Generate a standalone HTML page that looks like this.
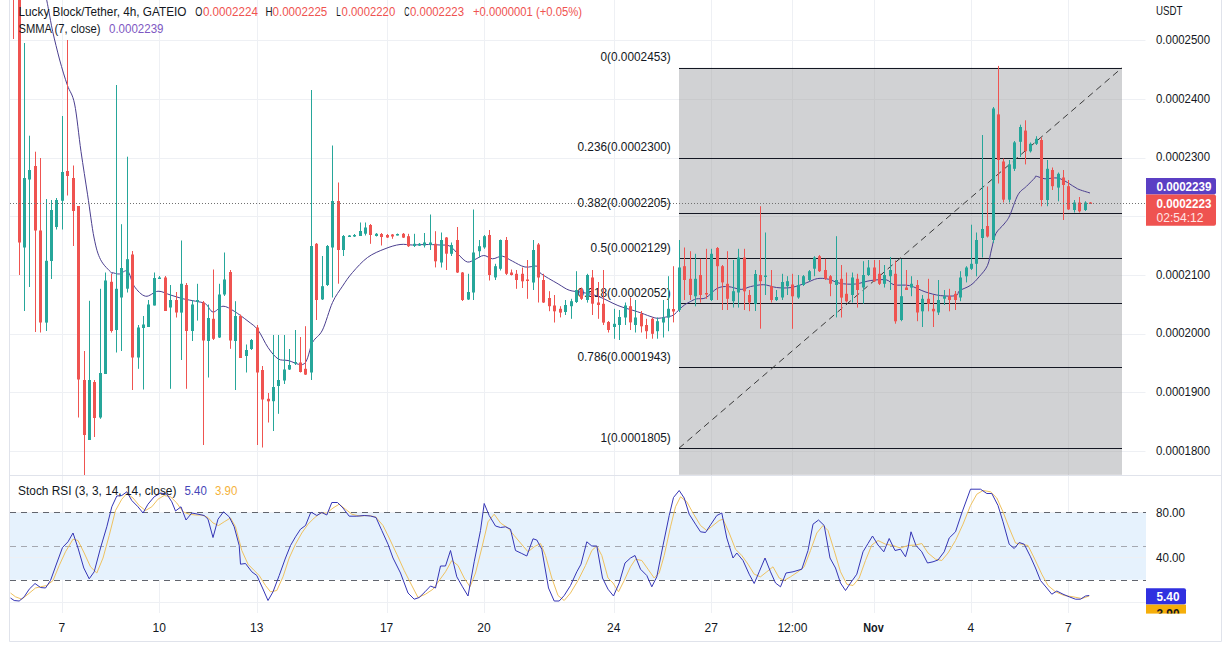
<!DOCTYPE html>
<html><head><meta charset="utf-8"><style>
html,body{margin:0;padding:0;background:#fff;width:1232px;height:647px;overflow:hidden}
svg{display:block;font-family:"Liberation Sans", sans-serif}
</style></head><body>
<svg width="1232" height="647" viewBox="0 0 1232 647">
<rect width="1232" height="647" fill="#fff"/>
<line x1="62.5" y1="0" x2="62.5" y2="613" stroke="#eef0f4" stroke-width="1"/>
<line x1="159.5" y1="0" x2="159.5" y2="613" stroke="#eef0f4" stroke-width="1"/>
<line x1="257.5" y1="0" x2="257.5" y2="613" stroke="#eef0f4" stroke-width="1"/>
<line x1="387.5" y1="0" x2="387.5" y2="613" stroke="#eef0f4" stroke-width="1"/>
<line x1="484.5" y1="0" x2="484.5" y2="613" stroke="#eef0f4" stroke-width="1"/>
<line x1="614.5" y1="0" x2="614.5" y2="613" stroke="#eef0f4" stroke-width="1"/>
<line x1="711.5" y1="0" x2="711.5" y2="613" stroke="#eef0f4" stroke-width="1"/>
<line x1="792.5" y1="0" x2="792.5" y2="613" stroke="#eef0f4" stroke-width="1"/>
<line x1="874.5" y1="0" x2="874.5" y2="613" stroke="#eef0f4" stroke-width="1"/>
<line x1="971.5" y1="0" x2="971.5" y2="613" stroke="#eef0f4" stroke-width="1"/>
<line x1="1068.5" y1="0" x2="1068.5" y2="613" stroke="#eef0f4" stroke-width="1"/>
<line x1="10" y1="40.5" x2="1145.5" y2="40.5" stroke="#eef0f4" stroke-width="1"/>
<line x1="10" y1="99.5" x2="1145.5" y2="99.5" stroke="#eef0f4" stroke-width="1"/>
<line x1="10" y1="158.5" x2="1145.5" y2="158.5" stroke="#eef0f4" stroke-width="1"/>
<line x1="10" y1="216.5" x2="1145.5" y2="216.5" stroke="#eef0f4" stroke-width="1"/>
<line x1="10" y1="275.5" x2="1145.5" y2="275.5" stroke="#eef0f4" stroke-width="1"/>
<line x1="10" y1="334.5" x2="1145.5" y2="334.5" stroke="#eef0f4" stroke-width="1"/>
<line x1="10" y1="392.5" x2="1145.5" y2="392.5" stroke="#eef0f4" stroke-width="1"/>
<line x1="10" y1="451.5" x2="1145.5" y2="451.5" stroke="#eef0f4" stroke-width="1"/>
<rect x="679" y="67.8" width="443" height="407.0" fill="#d1d2d4"/>
<line x1="711.5" y1="67.8" x2="711.5" y2="474.8" stroke="#c9cacc" stroke-width="1"/>
<line x1="792.5" y1="67.8" x2="792.5" y2="474.8" stroke="#c9cacc" stroke-width="1"/>
<line x1="874.5" y1="67.8" x2="874.5" y2="474.8" stroke="#c9cacc" stroke-width="1"/>
<line x1="971.5" y1="67.8" x2="971.5" y2="474.8" stroke="#c9cacc" stroke-width="1"/>
<line x1="1068.5" y1="67.8" x2="1068.5" y2="474.8" stroke="#c9cacc" stroke-width="1"/>
<line x1="679" y1="99.5" x2="1122" y2="99.5" stroke="#c9cacc" stroke-width="1"/>
<line x1="679" y1="158.5" x2="1122" y2="158.5" stroke="#c9cacc" stroke-width="1"/>
<line x1="679" y1="216.5" x2="1122" y2="216.5" stroke="#c9cacc" stroke-width="1"/>
<line x1="679" y1="275.5" x2="1122" y2="275.5" stroke="#c9cacc" stroke-width="1"/>
<line x1="679" y1="334.5" x2="1122" y2="334.5" stroke="#c9cacc" stroke-width="1"/>
<line x1="679" y1="392.5" x2="1122" y2="392.5" stroke="#c9cacc" stroke-width="1"/>
<line x1="679" y1="451.5" x2="1122" y2="451.5" stroke="#c9cacc" stroke-width="1"/>
<line x1="679" y1="68.5" x2="1122" y2="68.5" stroke="#131722" stroke-width="1.1"/>
<line x1="679" y1="158.5" x2="1122" y2="158.5" stroke="#131722" stroke-width="1.1"/>
<line x1="679" y1="213.5" x2="1122" y2="213.5" stroke="#131722" stroke-width="1.1"/>
<line x1="679" y1="258.5" x2="1122" y2="258.5" stroke="#131722" stroke-width="1.1"/>
<line x1="679" y1="303.5" x2="1122" y2="303.5" stroke="#131722" stroke-width="1.1"/>
<line x1="679" y1="367.5" x2="1122" y2="367.5" stroke="#131722" stroke-width="1.1"/>
<line x1="679" y1="448.5" x2="1122" y2="448.5" stroke="#131722" stroke-width="1.1"/>
<line x1="679" y1="448.2" x2="1122" y2="67.8" stroke="#3a3a3a" stroke-width="1" stroke-dasharray="6.5,4.5"/>
<text x="670.8" y="61.3" font-size="12" fill="#131722" text-anchor="end" font-weight="normal" textLength="70.3" lengthAdjust="spacingAndGlyphs">0(0.0002453)</text>
<text x="670.8" y="151.1" font-size="12" fill="#131722" text-anchor="end" font-weight="normal" textLength="93.3" lengthAdjust="spacingAndGlyphs">0.236(0.0002300)</text>
<text x="670.8" y="206.9" font-size="12" fill="#131722" text-anchor="end" font-weight="normal" textLength="93.3" lengthAdjust="spacingAndGlyphs">0.382(0.0002205)</text>
<text x="670.8" y="251.5" font-size="12" fill="#131722" text-anchor="end" font-weight="normal" textLength="80.2" lengthAdjust="spacingAndGlyphs">0.5(0.0002129)</text>
<text x="670.8" y="296.7" font-size="12" fill="#131722" text-anchor="end" font-weight="normal" textLength="93.3" lengthAdjust="spacingAndGlyphs">0.618(0.0002052)</text>
<text x="670.8" y="360.7" font-size="12" fill="#131722" text-anchor="end" font-weight="normal" textLength="93.3" lengthAdjust="spacingAndGlyphs">0.786(0.0001943)</text>
<text x="670.8" y="441.7" font-size="12" fill="#131722" text-anchor="end" font-weight="normal" textLength="70.3" lengthAdjust="spacingAndGlyphs">1(0.0001805)</text>
<path d="M46.7,0.0 C47.1,2.0 48.0,6.8 49.0,12.0 C50.0,17.2 50.9,23.5 52.7,31.5 C54.5,39.5 57.3,51.1 59.7,60.0 C62.1,68.9 64.8,77.7 67.3,85.0 C69.8,92.3 72.3,92.9 74.6,104.0 C76.9,115.1 78.8,136.4 81.0,151.5 C83.2,166.6 85.4,180.4 87.6,194.8 C89.8,209.2 91.9,227.2 94.1,238.0 C96.3,248.8 97.7,253.9 100.6,259.7 C103.5,265.5 109.4,270.5 111.4,272.7 C113.4,274.9 111.1,272.4 112.4,272.6 C113.7,272.8 116.8,274.2 119.3,274.0 C121.8,273.8 125.2,269.2 127.7,271.2 C130.2,273.2 131.3,282.1 134.2,286.2 C137.2,290.4 141.5,295.4 145.5,296.2 C149.5,297.1 153.8,291.5 158.0,291.2 C162.2,291.0 166.3,293.8 170.5,295.0 C174.7,296.2 178.8,297.7 183.0,298.8 C187.2,299.8 191.8,300.4 195.5,301.2 C199.2,302.1 202.6,302.0 205.5,303.8 C208.4,305.5 210.1,311.6 213.0,312.0 C215.9,312.4 219.5,306.4 223.0,306.2 C226.5,306.1 230.1,308.8 234.2,311.2 C238.4,313.8 244.0,318.1 248.0,321.2 C252.0,324.4 254.7,325.6 258.0,330.0 C261.3,334.4 264.7,342.7 268.0,347.5 C271.3,352.3 274.7,356.6 278.0,358.8 C281.3,360.9 283.6,359.7 288.0,360.5 C292.4,361.3 300.2,366.8 304.2,363.8 C308.3,360.8 309.5,348.1 312.5,342.5 C315.5,336.9 319.2,336.7 322.5,330.0 C325.8,323.3 329.2,309.8 332.5,302.5 C335.8,295.2 339.2,291.2 342.5,286.2 C345.8,281.2 348.3,277.3 352.5,272.5 C356.7,267.7 362.1,261.5 367.5,257.5 C372.9,253.5 379.6,250.9 385.0,248.8 C390.4,246.6 395.4,245.1 400.0,244.5 C404.6,243.9 408.3,245.0 412.5,245.0 C416.7,245.0 420.4,244.5 425.0,244.5 C429.6,244.5 435.8,244.7 440.0,245.0 C444.2,245.3 446.7,244.4 450.0,246.2 C453.3,248.1 457.1,253.6 460.0,256.2 C462.9,258.9 465.0,261.5 467.5,262.0 C470.0,262.5 472.3,260.6 475.0,259.5 C477.7,258.4 480.8,255.6 483.8,255.5 C486.7,255.4 489.4,258.6 492.5,258.8 C495.6,258.9 499.2,255.8 502.5,256.2 C505.8,256.7 508.8,259.5 512.5,261.2 C516.2,263.0 520.8,266.2 525.0,267.0 C529.2,267.8 535.0,265.3 537.5,266.2 C540.0,267.2 536.6,269.9 540.0,272.8 C543.4,275.7 553.2,281.0 558.1,283.9 C563.0,286.8 565.3,288.8 569.2,290.2 C573.1,291.6 576.8,291.3 581.7,292.3 C586.6,293.3 592.4,294.2 598.4,296.4 C604.4,298.6 611.4,302.9 617.9,305.5 C624.4,308.1 632.0,309.9 637.4,311.7 C642.8,313.5 646.6,315.2 650.0,316.3 C653.4,317.4 655.1,318.2 657.7,318.3 C660.3,318.4 662.9,317.6 665.5,317.1 C668.1,316.6 670.9,316.5 673.2,315.2 C675.5,313.9 677.5,311.1 679.4,309.4 C681.3,307.6 683.0,306.0 684.8,304.7 C686.6,303.4 688.3,302.7 690.2,301.7 C692.1,300.7 693.8,299.5 696.4,298.9 C699.0,298.2 702.2,299.6 705.7,297.8 C709.2,296.1 713.4,290.3 717.1,288.4 C720.9,286.5 724.2,286.4 728.2,286.6 C732.2,286.8 737.5,289.4 741.2,289.4 C744.9,289.4 746.8,287.4 750.5,286.6 C754.2,285.8 759.2,284.6 763.5,284.7 C767.8,284.8 771.9,287.0 776.5,287.5 C781.1,288.0 786.3,288.3 791.3,287.5 C796.2,286.7 801.9,284.4 806.2,282.9 C810.5,281.4 813.6,279.2 817.3,278.6 C821.0,278.0 824.6,278.4 828.4,279.2 C832.2,280.0 835.5,282.5 840.0,283.3 C844.5,284.1 850.4,284.5 855.5,284.0 C860.6,283.5 865.8,281.2 870.9,280.5 C876.0,279.8 882.5,279.2 886.4,279.9 C890.3,280.6 890.2,283.9 894.1,284.8 C898.0,285.8 904.5,284.4 909.6,285.6 C914.8,286.8 919.9,290.1 925.0,291.8 C930.1,293.5 935.4,295.0 940.5,295.6 C945.6,296.2 952.7,296.4 955.9,295.6 C959.1,294.8 957.1,292.4 959.6,290.7 C962.1,289.0 967.5,287.5 970.7,285.2 C974.0,282.9 976.3,280.1 979.1,276.8 C981.9,273.6 985.3,270.3 987.4,265.7 C989.5,261.1 990.2,254.3 991.6,249.0 C993.0,243.7 993.7,237.9 995.8,233.7 C997.9,229.5 1001.8,227.0 1004.1,224.0 C1006.4,221.0 1007.4,220.5 1009.7,215.6 C1012.0,210.7 1015.2,199.7 1018.0,194.8 C1020.8,189.9 1023.6,189.2 1026.4,186.4 C1029.2,183.6 1033.1,179.7 1034.7,178.0 C1036.3,176.3 1034.5,176.1 1036.2,176.2 C1038.0,176.4 1041.5,178.5 1045.0,178.8 C1048.5,179.0 1053.8,177.4 1057.5,178.0 C1061.2,178.6 1064.2,180.7 1067.5,182.5 C1070.8,184.3 1073.8,187.0 1077.5,188.8 C1081.2,190.5 1087.9,192.3 1090.0,193.0" fill="none" stroke="#4b3f8f" stroke-width="1"/>
<rect x="13" y="-70.0" width="1" height="109.0" fill="#ef5350"/>
<rect x="12" y="-60.0" width="3" height="55.0" fill="#ef5350"/>
<rect x="19" y="-20.0" width="1" height="295.0" fill="#ef5350"/>
<rect x="18" y="-10.0" width="3" height="252.5" fill="#ef5350"/>
<rect x="24" y="43.0" width="1" height="268.0" fill="#26a69a"/>
<rect x="23" y="178.0" width="3" height="69.5" fill="#26a69a"/>
<rect x="29" y="135.7" width="1" height="151.3" fill="#26a69a"/>
<rect x="28" y="170.0" width="3" height="9.5" fill="#26a69a"/>
<rect x="35" y="151.7" width="1" height="180.3" fill="#ef5350"/>
<rect x="34" y="166.0" width="3" height="64.5" fill="#ef5350"/>
<rect x="40" y="158.0" width="1" height="174.5" fill="#ef5350"/>
<rect x="39" y="230.5" width="3" height="92.0" fill="#ef5350"/>
<rect x="46" y="199.0" width="1" height="132.0" fill="#26a69a"/>
<rect x="45" y="260.8" width="3" height="61.8" fill="#26a69a"/>
<rect x="51" y="200.0" width="1" height="79.0" fill="#26a69a"/>
<rect x="50" y="210.0" width="3" height="51.0" fill="#26a69a"/>
<rect x="56" y="198.0" width="1" height="31.5" fill="#26a69a"/>
<rect x="55" y="200.0" width="3" height="27.0" fill="#26a69a"/>
<rect x="62" y="116.0" width="1" height="113.5" fill="#26a69a"/>
<rect x="61" y="172.0" width="3" height="28.8" fill="#26a69a"/>
<rect x="67" y="40.0" width="1" height="155.5" fill="#ef5350"/>
<rect x="66" y="171.0" width="3" height="5.0" fill="#ef5350"/>
<rect x="73" y="165.5" width="1" height="80.5" fill="#ef5350"/>
<rect x="72" y="178.0" width="3" height="33.0" fill="#ef5350"/>
<rect x="78" y="206.0" width="1" height="211.5" fill="#ef5350"/>
<rect x="77" y="206.0" width="3" height="173.5" fill="#ef5350"/>
<rect x="84" y="351.0" width="1" height="124.0" fill="#ef5350"/>
<rect x="83" y="380.0" width="3" height="55.0" fill="#ef5350"/>
<rect x="89" y="300.8" width="1" height="139.2" fill="#26a69a"/>
<rect x="88" y="380.0" width="3" height="60.0" fill="#26a69a"/>
<rect x="94" y="380.0" width="1" height="57.0" fill="#ef5350"/>
<rect x="93" y="382.0" width="3" height="36.0" fill="#ef5350"/>
<rect x="100" y="288.8" width="1" height="130.0" fill="#26a69a"/>
<rect x="99" y="373.0" width="3" height="44.5" fill="#26a69a"/>
<rect x="105" y="272.5" width="1" height="101.5" fill="#26a69a"/>
<rect x="104" y="280.5" width="3" height="93.5" fill="#26a69a"/>
<rect x="111" y="273.8" width="1" height="58.8" fill="#ef5350"/>
<rect x="110" y="281.8" width="3" height="49.2" fill="#ef5350"/>
<rect x="116" y="85.0" width="1" height="267.5" fill="#26a69a"/>
<rect x="115" y="288.8" width="3" height="41.2" fill="#26a69a"/>
<rect x="121" y="224.2" width="1" height="126.8" fill="#26a69a"/>
<rect x="120" y="268.0" width="3" height="29.5" fill="#26a69a"/>
<rect x="127" y="156.7" width="1" height="135.8" fill="#26a69a"/>
<rect x="126" y="259.2" width="3" height="29.5" fill="#26a69a"/>
<rect x="132" y="251.0" width="1" height="139.0" fill="#ef5350"/>
<rect x="131" y="254.5" width="3" height="103.0" fill="#ef5350"/>
<rect x="138" y="325.0" width="1" height="43.8" fill="#26a69a"/>
<rect x="137" y="327.5" width="3" height="30.0" fill="#26a69a"/>
<rect x="143" y="316.0" width="1" height="73.5" fill="#26a69a"/>
<rect x="142" y="324.5" width="3" height="3.5" fill="#26a69a"/>
<rect x="148" y="300.0" width="1" height="27.0" fill="#26a69a"/>
<rect x="147" y="304.5" width="3" height="22.5" fill="#26a69a"/>
<rect x="154" y="272.5" width="1" height="33.0" fill="#26a69a"/>
<rect x="153" y="278.0" width="3" height="27.5" fill="#26a69a"/>
<rect x="159" y="276.0" width="1" height="3.0" fill="#26a69a"/>
<rect x="158" y="277.5" width="3" height="1.5" fill="#26a69a"/>
<rect x="165" y="276.0" width="1" height="35.0" fill="#ef5350"/>
<rect x="164" y="277.5" width="3" height="33.5" fill="#ef5350"/>
<rect x="170" y="285.0" width="1" height="103.8" fill="#26a69a"/>
<rect x="169" y="300.0" width="3" height="7.5" fill="#26a69a"/>
<rect x="176" y="292.0" width="1" height="25.5" fill="#ef5350"/>
<rect x="175" y="300.0" width="3" height="12.5" fill="#ef5350"/>
<rect x="181" y="240.5" width="1" height="119.5" fill="#26a69a"/>
<rect x="180" y="283.8" width="3" height="28.8" fill="#26a69a"/>
<rect x="186" y="283.0" width="1" height="105.8" fill="#ef5350"/>
<rect x="185" y="285.0" width="3" height="46.0" fill="#ef5350"/>
<rect x="192" y="300.0" width="1" height="41.0" fill="#26a69a"/>
<rect x="191" y="304.5" width="3" height="26.5" fill="#26a69a"/>
<rect x="197" y="283.8" width="1" height="36.8" fill="#26a69a"/>
<rect x="196" y="300.0" width="3" height="2.0" fill="#26a69a"/>
<rect x="203" y="301.0" width="1" height="144.0" fill="#ef5350"/>
<rect x="202" y="302.5" width="3" height="38.0" fill="#ef5350"/>
<rect x="208" y="304.5" width="1" height="73.0" fill="#26a69a"/>
<rect x="207" y="318.0" width="3" height="23.0" fill="#26a69a"/>
<rect x="213" y="269.5" width="1" height="70.5" fill="#ef5350"/>
<rect x="212" y="318.8" width="3" height="20.0" fill="#ef5350"/>
<rect x="219" y="283.8" width="1" height="54.2" fill="#26a69a"/>
<rect x="218" y="294.5" width="3" height="43.0" fill="#26a69a"/>
<rect x="224" y="252.5" width="1" height="43.5" fill="#26a69a"/>
<rect x="223" y="279.5" width="3" height="15.0" fill="#26a69a"/>
<rect x="230" y="270.0" width="1" height="78.8" fill="#ef5350"/>
<rect x="229" y="272.0" width="3" height="68.5" fill="#ef5350"/>
<rect x="235" y="301.2" width="1" height="88.8" fill="#26a69a"/>
<rect x="234" y="316.0" width="3" height="25.0" fill="#26a69a"/>
<rect x="240" y="314.5" width="1" height="43.5" fill="#ef5350"/>
<rect x="239" y="316.0" width="3" height="42.0" fill="#ef5350"/>
<rect x="246" y="344.5" width="1" height="28.0" fill="#26a69a"/>
<rect x="245" y="350.0" width="3" height="6.0" fill="#26a69a"/>
<rect x="251" y="339.0" width="1" height="11.0" fill="#26a69a"/>
<rect x="250" y="340.0" width="3" height="9.0" fill="#26a69a"/>
<rect x="257" y="325.0" width="1" height="120.0" fill="#ef5350"/>
<rect x="256" y="327.5" width="3" height="45.0" fill="#ef5350"/>
<rect x="262" y="366.0" width="1" height="81.5" fill="#ef5350"/>
<rect x="261" y="370.0" width="3" height="29.5" fill="#ef5350"/>
<rect x="268" y="393.0" width="1" height="29.5" fill="#ef5350"/>
<rect x="267" y="398.8" width="3" height="2.5" fill="#ef5350"/>
<rect x="273" y="335.0" width="1" height="96.0" fill="#26a69a"/>
<rect x="272" y="387.0" width="3" height="14.2" fill="#26a69a"/>
<rect x="278" y="335.0" width="1" height="78.8" fill="#26a69a"/>
<rect x="277" y="380.0" width="3" height="6.0" fill="#26a69a"/>
<rect x="284" y="335.0" width="1" height="49.0" fill="#26a69a"/>
<rect x="283" y="369.5" width="3" height="11.0" fill="#26a69a"/>
<rect x="289" y="349.0" width="1" height="21.0" fill="#26a69a"/>
<rect x="288" y="365.0" width="3" height="4.5" fill="#26a69a"/>
<rect x="295" y="330.0" width="1" height="35.0" fill="#26a69a"/>
<rect x="294" y="362.0" width="3" height="1.5" fill="#26a69a"/>
<rect x="300" y="337.0" width="1" height="35.5" fill="#ef5350"/>
<rect x="299" y="362.5" width="3" height="9.5" fill="#ef5350"/>
<rect x="305" y="326.2" width="1" height="48.8" fill="#ef5350"/>
<rect x="304" y="368.8" width="3" height="5.8" fill="#ef5350"/>
<rect x="311" y="90.0" width="1" height="290.0" fill="#26a69a"/>
<rect x="310" y="246.0" width="3" height="126.5" fill="#26a69a"/>
<rect x="316" y="243.0" width="1" height="77.0" fill="#ef5350"/>
<rect x="315" y="243.8" width="3" height="56.2" fill="#ef5350"/>
<rect x="322" y="256.0" width="1" height="44.0" fill="#26a69a"/>
<rect x="321" y="286.2" width="3" height="13.2" fill="#26a69a"/>
<rect x="327" y="245.0" width="1" height="41.0" fill="#26a69a"/>
<rect x="326" y="246.0" width="3" height="39.0" fill="#26a69a"/>
<rect x="332" y="145.5" width="1" height="152.0" fill="#26a69a"/>
<rect x="331" y="201.0" width="3" height="46.5" fill="#26a69a"/>
<rect x="338" y="182.5" width="1" height="101.2" fill="#ef5350"/>
<rect x="337" y="201.0" width="3" height="49.0" fill="#ef5350"/>
<rect x="343" y="235.0" width="1" height="21.0" fill="#26a69a"/>
<rect x="342" y="236.0" width="3" height="14.0" fill="#26a69a"/>
<rect x="349" y="235.0" width="1" height="2.0" fill="#26a69a"/>
<rect x="348" y="235.5" width="3" height="1.5" fill="#26a69a"/>
<rect x="354" y="234.0" width="1" height="3.0" fill="#26a69a"/>
<rect x="353" y="235.0" width="3" height="1.5" fill="#26a69a"/>
<rect x="360" y="222.5" width="1" height="13.5" fill="#26a69a"/>
<rect x="359" y="231.0" width="3" height="5.0" fill="#26a69a"/>
<rect x="365" y="222.5" width="1" height="13.0" fill="#26a69a"/>
<rect x="364" y="227.5" width="3" height="6.2" fill="#26a69a"/>
<rect x="370" y="224.0" width="1" height="19.8" fill="#ef5350"/>
<rect x="369" y="225.0" width="3" height="10.0" fill="#ef5350"/>
<rect x="376" y="233.0" width="1" height="3.5" fill="#26a69a"/>
<rect x="375" y="233.8" width="3" height="2.2" fill="#26a69a"/>
<rect x="381" y="233.0" width="1" height="12.5" fill="#ef5350"/>
<rect x="380" y="234.0" width="3" height="3.0" fill="#ef5350"/>
<rect x="387" y="234.0" width="1" height="4.0" fill="#ef5350"/>
<rect x="386" y="235.0" width="3" height="2.5" fill="#ef5350"/>
<rect x="392" y="234.0" width="1" height="4.8" fill="#ef5350"/>
<rect x="391" y="234.5" width="3" height="2.0" fill="#ef5350"/>
<rect x="397" y="233.5" width="1" height="2.0" fill="#26a69a"/>
<rect x="396" y="234.0" width="3" height="1.5" fill="#26a69a"/>
<rect x="403" y="233.0" width="1" height="5.0" fill="#ef5350"/>
<rect x="402" y="233.8" width="3" height="3.8" fill="#ef5350"/>
<rect x="408" y="233.8" width="1" height="13.2" fill="#ef5350"/>
<rect x="407" y="236.2" width="3" height="10.0" fill="#ef5350"/>
<rect x="414" y="233.8" width="1" height="13.2" fill="#26a69a"/>
<rect x="413" y="243.8" width="3" height="2.2" fill="#26a69a"/>
<rect x="419" y="243.0" width="1" height="3.0" fill="#26a69a"/>
<rect x="418" y="243.8" width="3" height="1.8" fill="#26a69a"/>
<rect x="424" y="233.0" width="1" height="14.5" fill="#26a69a"/>
<rect x="423" y="242.5" width="3" height="3.0" fill="#26a69a"/>
<rect x="430" y="214.5" width="1" height="35.5" fill="#26a69a"/>
<rect x="429" y="242.5" width="3" height="2.5" fill="#26a69a"/>
<rect x="435" y="231.2" width="1" height="36.2" fill="#ef5350"/>
<rect x="434" y="243.8" width="3" height="17.5" fill="#ef5350"/>
<rect x="441" y="232.5" width="1" height="35.0" fill="#26a69a"/>
<rect x="440" y="240.0" width="3" height="22.5" fill="#26a69a"/>
<rect x="446" y="237.0" width="1" height="33.0" fill="#ef5350"/>
<rect x="445" y="237.5" width="3" height="16.2" fill="#ef5350"/>
<rect x="451" y="242.5" width="1" height="13.5" fill="#26a69a"/>
<rect x="450" y="245.0" width="3" height="8.8" fill="#26a69a"/>
<rect x="457" y="227.0" width="1" height="46.0" fill="#ef5350"/>
<rect x="456" y="240.0" width="3" height="32.5" fill="#ef5350"/>
<rect x="462" y="272.0" width="1" height="29.0" fill="#ef5350"/>
<rect x="461" y="272.5" width="3" height="27.5" fill="#ef5350"/>
<rect x="468" y="273.8" width="1" height="26.2" fill="#26a69a"/>
<rect x="467" y="292.0" width="3" height="7.5" fill="#26a69a"/>
<rect x="473" y="209.5" width="1" height="90.5" fill="#26a69a"/>
<rect x="472" y="252.5" width="3" height="40.0" fill="#26a69a"/>
<rect x="479" y="240.0" width="1" height="17.5" fill="#26a69a"/>
<rect x="478" y="246.2" width="3" height="5.0" fill="#26a69a"/>
<rect x="484" y="235.0" width="1" height="13.8" fill="#26a69a"/>
<rect x="483" y="236.2" width="3" height="11.2" fill="#26a69a"/>
<rect x="489" y="230.0" width="1" height="50.5" fill="#ef5350"/>
<rect x="488" y="235.0" width="3" height="40.0" fill="#ef5350"/>
<rect x="495" y="263.8" width="1" height="16.2" fill="#26a69a"/>
<rect x="494" y="266.2" width="3" height="11.2" fill="#26a69a"/>
<rect x="500" y="239.5" width="1" height="31.0" fill="#26a69a"/>
<rect x="499" y="240.0" width="3" height="28.8" fill="#26a69a"/>
<rect x="506" y="237.0" width="1" height="38.0" fill="#ef5350"/>
<rect x="505" y="240.0" width="3" height="33.8" fill="#ef5350"/>
<rect x="511" y="269.5" width="1" height="6.0" fill="#ef5350"/>
<rect x="510" y="272.5" width="3" height="2.5" fill="#ef5350"/>
<rect x="516" y="270.0" width="1" height="18.8" fill="#ef5350"/>
<rect x="515" y="273.8" width="3" height="6.2" fill="#ef5350"/>
<rect x="522" y="267.5" width="1" height="20.5" fill="#ef5350"/>
<rect x="521" y="273.8" width="3" height="7.5" fill="#ef5350"/>
<rect x="527" y="260.0" width="1" height="38.8" fill="#ef5350"/>
<rect x="526" y="279.5" width="3" height="1.5" fill="#ef5350"/>
<rect x="533" y="240.0" width="1" height="50.0" fill="#26a69a"/>
<rect x="532" y="250.0" width="3" height="32.5" fill="#26a69a"/>
<rect x="538" y="243.0" width="1" height="59.5" fill="#ef5350"/>
<rect x="537" y="244.5" width="3" height="33.0" fill="#ef5350"/>
<rect x="543" y="273.8" width="1" height="29.2" fill="#ef5350"/>
<rect x="542" y="280.0" width="3" height="22.5" fill="#ef5350"/>
<rect x="549" y="291.2" width="1" height="20.0" fill="#ef5350"/>
<rect x="548" y="298.0" width="3" height="8.2" fill="#ef5350"/>
<rect x="554" y="295.0" width="1" height="27.5" fill="#ef5350"/>
<rect x="553" y="305.5" width="3" height="5.8" fill="#ef5350"/>
<rect x="560" y="306.2" width="1" height="11.2" fill="#ef5350"/>
<rect x="559" y="308.8" width="3" height="3.8" fill="#ef5350"/>
<rect x="565" y="300.0" width="1" height="15.0" fill="#26a69a"/>
<rect x="564" y="305.0" width="3" height="7.0" fill="#26a69a"/>
<rect x="571" y="298.8" width="1" height="20.0" fill="#26a69a"/>
<rect x="570" y="301.2" width="3" height="5.0" fill="#26a69a"/>
<rect x="576" y="271.2" width="1" height="31.8" fill="#26a69a"/>
<rect x="575" y="290.0" width="3" height="12.0" fill="#26a69a"/>
<rect x="581" y="287.5" width="1" height="12.5" fill="#ef5350"/>
<rect x="580" y="288.8" width="3" height="10.0" fill="#ef5350"/>
<rect x="587" y="273.8" width="1" height="28.8" fill="#26a69a"/>
<rect x="586" y="275.0" width="3" height="25.0" fill="#26a69a"/>
<rect x="592" y="270.0" width="1" height="45.0" fill="#ef5350"/>
<rect x="591" y="277.5" width="3" height="26.2" fill="#ef5350"/>
<rect x="598" y="282.0" width="1" height="36.8" fill="#ef5350"/>
<rect x="597" y="302.5" width="3" height="2.5" fill="#ef5350"/>
<rect x="603" y="270.0" width="1" height="55.0" fill="#ef5350"/>
<rect x="602" y="303.8" width="3" height="18.8" fill="#ef5350"/>
<rect x="608" y="321.0" width="1" height="11.5" fill="#ef5350"/>
<rect x="607" y="322.0" width="3" height="8.0" fill="#ef5350"/>
<rect x="614" y="308.8" width="1" height="30.0" fill="#26a69a"/>
<rect x="613" y="323.8" width="3" height="3.2" fill="#26a69a"/>
<rect x="619" y="310.0" width="1" height="30.0" fill="#26a69a"/>
<rect x="618" y="317.0" width="3" height="8.0" fill="#26a69a"/>
<rect x="625" y="302.5" width="1" height="22.5" fill="#26a69a"/>
<rect x="624" y="305.5" width="3" height="12.0" fill="#26a69a"/>
<rect x="630" y="297.5" width="1" height="32.5" fill="#ef5350"/>
<rect x="629" y="306.2" width="3" height="16.2" fill="#ef5350"/>
<rect x="635" y="300.0" width="1" height="32.5" fill="#26a69a"/>
<rect x="634" y="317.5" width="3" height="7.5" fill="#26a69a"/>
<rect x="641" y="311.0" width="1" height="21.5" fill="#ef5350"/>
<rect x="640" y="313.8" width="3" height="12.5" fill="#ef5350"/>
<rect x="646" y="318.8" width="1" height="20.0" fill="#ef5350"/>
<rect x="645" y="325.0" width="3" height="6.2" fill="#ef5350"/>
<rect x="652" y="317.5" width="1" height="21.2" fill="#ef5350"/>
<rect x="651" y="318.8" width="3" height="15.0" fill="#ef5350"/>
<rect x="657" y="317.5" width="1" height="21.2" fill="#26a69a"/>
<rect x="656" y="321.2" width="3" height="10.0" fill="#26a69a"/>
<rect x="663" y="300.0" width="1" height="37.5" fill="#26a69a"/>
<rect x="662" y="317.5" width="3" height="5.0" fill="#26a69a"/>
<rect x="668" y="276.2" width="1" height="55.0" fill="#26a69a"/>
<rect x="667" y="308.8" width="3" height="8.8" fill="#26a69a"/>
<rect x="673" y="266.2" width="1" height="56.2" fill="#ef5350"/>
<rect x="672" y="309.0" width="3" height="2.5" fill="#ef5350"/>
<rect x="679" y="240.0" width="1" height="72.0" fill="#26a69a"/>
<rect x="678" y="267.5" width="3" height="42.5" fill="#26a69a"/>
<rect x="684" y="247.5" width="1" height="52.5" fill="#ef5350"/>
<rect x="683" y="266.2" width="3" height="13.8" fill="#ef5350"/>
<rect x="690" y="251.2" width="1" height="48.8" fill="#ef5350"/>
<rect x="689" y="278.8" width="3" height="16.2" fill="#ef5350"/>
<rect x="695" y="253.8" width="1" height="52.5" fill="#26a69a"/>
<rect x="694" y="278.8" width="3" height="17.5" fill="#26a69a"/>
<rect x="700" y="258.8" width="1" height="43.8" fill="#ef5350"/>
<rect x="699" y="275.0" width="3" height="20.0" fill="#ef5350"/>
<rect x="706" y="248.8" width="1" height="50.0" fill="#ef5350"/>
<rect x="705" y="293.0" width="3" height="1.5" fill="#ef5350"/>
<rect x="711" y="248.8" width="1" height="52.2" fill="#26a69a"/>
<rect x="710" y="253.8" width="3" height="46.2" fill="#26a69a"/>
<rect x="717" y="247.0" width="1" height="53.0" fill="#ef5350"/>
<rect x="716" y="248.0" width="3" height="18.2" fill="#ef5350"/>
<rect x="722" y="265.0" width="1" height="45.0" fill="#ef5350"/>
<rect x="721" y="266.2" width="3" height="16.2" fill="#ef5350"/>
<rect x="727" y="251.2" width="1" height="58.8" fill="#ef5350"/>
<rect x="726" y="283.8" width="3" height="15.0" fill="#ef5350"/>
<rect x="733" y="260.0" width="1" height="47.5" fill="#26a69a"/>
<rect x="732" y="291.2" width="3" height="10.0" fill="#26a69a"/>
<rect x="738" y="248.8" width="1" height="58.8" fill="#26a69a"/>
<rect x="737" y="257.5" width="3" height="35.0" fill="#26a69a"/>
<rect x="744" y="248.8" width="1" height="61.2" fill="#ef5350"/>
<rect x="743" y="257.5" width="3" height="33.8" fill="#ef5350"/>
<rect x="749" y="290.0" width="1" height="21.2" fill="#ef5350"/>
<rect x="748" y="295.0" width="3" height="7.5" fill="#ef5350"/>
<rect x="755" y="270.0" width="1" height="41.0" fill="#26a69a"/>
<rect x="754" y="274.0" width="3" height="30.0" fill="#26a69a"/>
<rect x="760" y="206.2" width="1" height="122.5" fill="#ef5350"/>
<rect x="759" y="275.0" width="3" height="6.2" fill="#ef5350"/>
<rect x="765" y="232.5" width="1" height="62.5" fill="#26a69a"/>
<rect x="764" y="275.5" width="3" height="1.5" fill="#26a69a"/>
<rect x="771" y="270.0" width="1" height="32.5" fill="#ef5350"/>
<rect x="770" y="286.2" width="3" height="13.8" fill="#ef5350"/>
<rect x="776" y="290.0" width="1" height="11.0" fill="#26a69a"/>
<rect x="775" y="297.0" width="3" height="3.0" fill="#26a69a"/>
<rect x="782" y="273.8" width="1" height="26.2" fill="#26a69a"/>
<rect x="781" y="282.0" width="3" height="15.5" fill="#26a69a"/>
<rect x="787" y="276.2" width="1" height="18.8" fill="#26a69a"/>
<rect x="786" y="281.2" width="3" height="5.0" fill="#26a69a"/>
<rect x="792" y="273.8" width="1" height="55.0" fill="#ef5350"/>
<rect x="791" y="284.5" width="3" height="11.8" fill="#ef5350"/>
<rect x="798" y="275.0" width="1" height="23.8" fill="#26a69a"/>
<rect x="797" y="285.0" width="3" height="12.5" fill="#26a69a"/>
<rect x="803" y="275.0" width="1" height="11.0" fill="#26a69a"/>
<rect x="802" y="276.2" width="3" height="8.8" fill="#26a69a"/>
<rect x="809" y="270.0" width="1" height="11.0" fill="#26a69a"/>
<rect x="808" y="271.2" width="3" height="8.8" fill="#26a69a"/>
<rect x="814" y="256.2" width="1" height="20.0" fill="#26a69a"/>
<rect x="813" y="257.5" width="3" height="11.2" fill="#26a69a"/>
<rect x="819" y="255.0" width="1" height="17.0" fill="#ef5350"/>
<rect x="818" y="256.2" width="3" height="15.0" fill="#ef5350"/>
<rect x="825" y="258.8" width="1" height="21.2" fill="#ef5350"/>
<rect x="824" y="270.0" width="3" height="8.8" fill="#ef5350"/>
<rect x="830" y="275.0" width="1" height="21.2" fill="#ef5350"/>
<rect x="829" y="276.2" width="3" height="7.5" fill="#ef5350"/>
<rect x="836" y="236.2" width="1" height="81.2" fill="#26a69a"/>
<rect x="835" y="280.0" width="3" height="5.0" fill="#26a69a"/>
<rect x="841" y="265.0" width="1" height="52.5" fill="#ef5350"/>
<rect x="840" y="278.8" width="3" height="18.8" fill="#ef5350"/>
<rect x="846" y="272.5" width="1" height="30.0" fill="#ef5350"/>
<rect x="845" y="293.8" width="3" height="7.5" fill="#ef5350"/>
<rect x="852" y="272.5" width="1" height="30.0" fill="#26a69a"/>
<rect x="851" y="277.5" width="3" height="17.5" fill="#26a69a"/>
<rect x="857" y="273.8" width="1" height="33.8" fill="#ef5350"/>
<rect x="856" y="278.8" width="3" height="11.2" fill="#ef5350"/>
<rect x="863" y="261.2" width="1" height="42.5" fill="#26a69a"/>
<rect x="862" y="275.0" width="3" height="12.5" fill="#26a69a"/>
<rect x="868" y="260.0" width="1" height="16.0" fill="#26a69a"/>
<rect x="867" y="267.5" width="3" height="7.5" fill="#26a69a"/>
<rect x="874" y="260.0" width="1" height="22.0" fill="#ef5350"/>
<rect x="873" y="267.5" width="3" height="13.8" fill="#ef5350"/>
<rect x="879" y="260.0" width="1" height="25.0" fill="#ef5350"/>
<rect x="878" y="273.8" width="3" height="10.0" fill="#ef5350"/>
<rect x="884" y="265.0" width="1" height="22.5" fill="#26a69a"/>
<rect x="883" y="275.0" width="3" height="8.8" fill="#26a69a"/>
<rect x="890" y="257.0" width="1" height="33.0" fill="#26a69a"/>
<rect x="889" y="270.0" width="3" height="6.2" fill="#26a69a"/>
<rect x="895" y="260.5" width="1" height="63.2" fill="#ef5350"/>
<rect x="894" y="273.8" width="3" height="47.5" fill="#ef5350"/>
<rect x="901" y="259.0" width="1" height="62.2" fill="#26a69a"/>
<rect x="900" y="296.2" width="3" height="23.8" fill="#26a69a"/>
<rect x="906" y="270.0" width="1" height="20.0" fill="#ef5350"/>
<rect x="905" y="287.5" width="3" height="2.5" fill="#ef5350"/>
<rect x="911" y="276.2" width="1" height="20.0" fill="#26a69a"/>
<rect x="910" y="283.8" width="3" height="3.8" fill="#26a69a"/>
<rect x="917" y="280.0" width="1" height="41.2" fill="#ef5350"/>
<rect x="916" y="285.0" width="3" height="27.5" fill="#ef5350"/>
<rect x="922" y="295.0" width="1" height="32.0" fill="#26a69a"/>
<rect x="921" y="298.8" width="3" height="12.5" fill="#26a69a"/>
<rect x="928" y="278.8" width="1" height="32.5" fill="#ef5350"/>
<rect x="927" y="298.8" width="3" height="5.0" fill="#ef5350"/>
<rect x="933" y="295.0" width="1" height="32.0" fill="#ef5350"/>
<rect x="932" y="308.8" width="3" height="2.5" fill="#ef5350"/>
<rect x="938" y="280.0" width="1" height="35.0" fill="#26a69a"/>
<rect x="937" y="300.0" width="3" height="12.5" fill="#26a69a"/>
<rect x="944" y="290.0" width="1" height="15.0" fill="#26a69a"/>
<rect x="943" y="296.2" width="3" height="2.5" fill="#26a69a"/>
<rect x="949" y="288.8" width="1" height="22.5" fill="#ef5350"/>
<rect x="948" y="296.2" width="3" height="3.8" fill="#ef5350"/>
<rect x="955" y="291.0" width="1" height="19.0" fill="#ef5350"/>
<rect x="954" y="293.8" width="3" height="6.2" fill="#ef5350"/>
<rect x="960" y="271.2" width="1" height="30.0" fill="#26a69a"/>
<rect x="959" y="277.5" width="3" height="20.0" fill="#26a69a"/>
<rect x="966" y="266.2" width="1" height="16.2" fill="#26a69a"/>
<rect x="965" y="267.5" width="3" height="8.8" fill="#26a69a"/>
<rect x="971" y="224.7" width="1" height="45.3" fill="#26a69a"/>
<rect x="970" y="263.8" width="3" height="5.0" fill="#26a69a"/>
<rect x="976" y="232.5" width="1" height="43.8" fill="#26a69a"/>
<rect x="975" y="240.0" width="3" height="23.8" fill="#26a69a"/>
<rect x="982" y="135.0" width="1" height="122.5" fill="#26a69a"/>
<rect x="981" y="229.0" width="3" height="9.0" fill="#26a69a"/>
<rect x="987" y="186.5" width="1" height="51.0" fill="#ef5350"/>
<rect x="986" y="226.0" width="3" height="10.5" fill="#ef5350"/>
<rect x="993" y="107.0" width="1" height="136.0" fill="#26a69a"/>
<rect x="992" y="108.5" width="3" height="131.5" fill="#26a69a"/>
<rect x="998" y="65.9" width="1" height="117.6" fill="#ef5350"/>
<rect x="997" y="114.4" width="3" height="45.6" fill="#ef5350"/>
<rect x="1003" y="158.5" width="1" height="44.0" fill="#ef5350"/>
<rect x="1002" y="161.5" width="3" height="38.2" fill="#ef5350"/>
<rect x="1009" y="160.0" width="1" height="42.5" fill="#26a69a"/>
<rect x="1008" y="164.4" width="3" height="35.3" fill="#26a69a"/>
<rect x="1014" y="141.0" width="1" height="30.0" fill="#26a69a"/>
<rect x="1013" y="142.4" width="3" height="26.4" fill="#26a69a"/>
<rect x="1020" y="124.7" width="1" height="32.3" fill="#26a69a"/>
<rect x="1019" y="127.0" width="3" height="14.8" fill="#26a69a"/>
<rect x="1025" y="120.3" width="1" height="44.1" fill="#ef5350"/>
<rect x="1024" y="130.6" width="3" height="20.6" fill="#ef5350"/>
<rect x="1030" y="142.5" width="1" height="10.0" fill="#26a69a"/>
<rect x="1029" y="143.8" width="3" height="7.5" fill="#26a69a"/>
<rect x="1036" y="136.2" width="1" height="8.8" fill="#26a69a"/>
<rect x="1035" y="138.8" width="3" height="5.0" fill="#26a69a"/>
<rect x="1041" y="137.5" width="1" height="68.8" fill="#ef5350"/>
<rect x="1040" y="140.0" width="3" height="60.0" fill="#ef5350"/>
<rect x="1047" y="160.0" width="1" height="46.2" fill="#26a69a"/>
<rect x="1046" y="168.8" width="3" height="31.2" fill="#26a69a"/>
<rect x="1052" y="167.5" width="1" height="22.5" fill="#ef5350"/>
<rect x="1051" y="170.0" width="3" height="16.2" fill="#ef5350"/>
<rect x="1058" y="172.5" width="1" height="28.8" fill="#26a69a"/>
<rect x="1057" y="173.8" width="3" height="13.8" fill="#26a69a"/>
<rect x="1063" y="170.0" width="1" height="50.0" fill="#ef5350"/>
<rect x="1062" y="177.5" width="3" height="7.5" fill="#ef5350"/>
<rect x="1068" y="180.0" width="1" height="30.0" fill="#ef5350"/>
<rect x="1067" y="186.2" width="3" height="23.2" fill="#ef5350"/>
<rect x="1074" y="200.0" width="1" height="12.5" fill="#26a69a"/>
<rect x="1073" y="202.5" width="3" height="7.5" fill="#26a69a"/>
<rect x="1079" y="197.0" width="1" height="15.5" fill="#ef5350"/>
<rect x="1078" y="202.5" width="3" height="8.8" fill="#ef5350"/>
<rect x="1085" y="201.2" width="1" height="9.8" fill="#26a69a"/>
<rect x="1084" y="202.5" width="3" height="7.5" fill="#26a69a"/>
<rect x="1090" y="202.0" width="1" height="2.0" fill="#ef5350"/>
<rect x="1089" y="202.5" width="3" height="1.5" fill="#ef5350"/>
<line x1="10" y1="203.5" x2="1146" y2="203.5" stroke="#707070" stroke-width="1" stroke-dasharray="1,2"/>
<text x="18.5" y="16.0" font-size="12" fill="#131722" text-anchor="start" font-weight="normal" textLength="168" lengthAdjust="spacingAndGlyphs">Lucky Block/Tether, 4h, GATEIO</text>
<text x="195.2" y="16.0" font-size="12" fill="#131722" text-anchor="start" font-weight="normal" textLength="7.1" lengthAdjust="spacingAndGlyphs">O</text>
<text x="202.9" y="16.0" font-size="12" fill="#ef5350" text-anchor="start" font-weight="normal" textLength="55" lengthAdjust="spacingAndGlyphs">0.0002224</text>
<text x="265.4" y="16.0" font-size="12" fill="#131722" text-anchor="start" font-weight="normal" textLength="7.1" lengthAdjust="spacingAndGlyphs">H</text>
<text x="272.5" y="16.0" font-size="12" fill="#ef5350" text-anchor="start" font-weight="normal" textLength="54.8" lengthAdjust="spacingAndGlyphs">0.0002225</text>
<text x="336.2" y="16.0" font-size="12" fill="#131722" text-anchor="start" font-weight="normal" textLength="4.5" lengthAdjust="spacingAndGlyphs">L</text>
<text x="341.6" y="16.0" font-size="12" fill="#ef5350" text-anchor="start" font-weight="normal" textLength="53.6" lengthAdjust="spacingAndGlyphs">0.0002220</text>
<text x="404.3" y="16.0" font-size="12" fill="#131722" text-anchor="start" font-weight="normal" textLength="5.2" lengthAdjust="spacingAndGlyphs">C</text>
<text x="410.0" y="16.0" font-size="12" fill="#ef5350" text-anchor="start" font-weight="normal" textLength="54" lengthAdjust="spacingAndGlyphs">0.0002223</text>
<text x="473.0" y="16.0" font-size="12" fill="#ef5350" text-anchor="start" font-weight="normal" textLength="109" lengthAdjust="spacingAndGlyphs">+0.0000001 (+0.05%)</text>
<text x="18.5" y="32.5" font-size="12" fill="#131722" text-anchor="start" font-weight="normal" textLength="82" lengthAdjust="spacingAndGlyphs">SMMA (7, close)</text>
<text x="109.0" y="32.5" font-size="12" fill="#7e57c2" text-anchor="start" font-weight="normal" textLength="54.5" lengthAdjust="spacingAndGlyphs">0.0002239</text>
<rect x="10" y="512.2" width="1136" height="67.6" fill="#e6f2fd"/>
<line x1="10" y1="602.5" x2="1146" y2="602.5" stroke="#eef0f4" stroke-width="1"/>
<line x1="10" y1="557.5" x2="1146" y2="557.5" stroke="#eef0f4" stroke-width="1"/>
<line x1="10" y1="512.5" x2="1146" y2="512.5" stroke="#eef0f4" stroke-width="1"/>
<line x1="10" y1="512.5" x2="1146" y2="512.5" stroke="#62656d" stroke-width="1" stroke-dasharray="6,5"/>
<line x1="10" y1="546.5" x2="1146" y2="546.5" stroke="#a5a8b0" stroke-width="1" stroke-dasharray="6,5"/>
<line x1="10" y1="580.5" x2="1146" y2="580.5" stroke="#62656d" stroke-width="1" stroke-dasharray="6,5"/>
<polyline points="10.5,593.0 15.5,596.8 21.8,599.2 28.0,594.2 35.5,588.0 40.5,586.8 46.8,585.5 53.0,580.5 59.2,565.5 65.5,551.8 73.0,539.2 78.0,540.5 84.2,553.0 90.5,566.8 96.8,573.0 103.0,558.0 109.2,535.5 115.5,510.5 121.8,499.2 126.8,493.5 133.0,498.0 139.2,505.5 145.5,510.5 151.8,506.8 158.0,499.2 164.2,495.5 170.5,496.8 176.8,503.0 183.0,511.8 189.2,514.2 195.5,515.0 201.8,515.0 208.0,517.5 213.0,523.0 218.5,525.5 224.2,521.8 230.5,518.0 235.5,526.8 241.8,550.5 248.0,564.2 254.2,570.5 259.2,575.5 265.5,585.5 270.5,591.8 276.8,590.5 283.0,576.8 289.2,558.0 295.5,544.2 301.8,533.0 308.0,524.2 314.2,518.0 320.5,513.0 326.8,513.0 333.0,508.0 339.2,504.2 345.5,509.2 351.8,514.2 359.2,516.0 368.0,515.5 375.5,516.8 383.0,525.5 389.2,538.0 396.8,554.2 404.2,570.5 410.5,583.0 418.0,597.5 425.5,594.2 433.0,589.2 439.2,580.5 445.5,571.8 451.8,560.5 458.0,565.5 464.2,578.0 470.0,586.8 475.5,573.0 481.8,548.0 488.0,521.8 494.2,514.2 500.5,523.0 508.0,528.0 514.2,535.5 520.5,543.0 528.0,551.8 534.2,546.8 540.5,543.5 545.5,555.5 551.8,578.0 558.0,595.5 564.2,600.5 570.5,593.0 578.0,580.5 585.5,565.5 591.8,550.5 596.8,546.0 601.8,555.5 608.0,578.0 613.0,583.0 618.5,591.8 624.2,580.5 630.5,566.8 635.5,559.2 641.8,560.5 648.0,569.2 654.2,578.0 659.2,573.0 664.2,555.5 670.5,526.8 675.5,506.8 680.5,496.8 686.8,501.8 693.0,513.0 700.5,525.5 706.8,530.5 713.0,525.5 719.2,520.5 723.0,519.2 729.2,533.0 735.5,549.2 741.8,555.5 748.0,564.2 754.2,574.2 760.5,576.8 766.8,571.8 773.0,566.8 779.2,578.0 784.2,580.5 790.5,576.8 798.0,571.8 804.2,566.8 810.5,550.5 816.8,533.0 823.0,525.5 828.0,530.5 834.2,550.5 840.5,571.8 846.8,584.2 853.0,585.5 859.2,578.0 865.5,560.5 871.8,545.0 878.0,540.5 885.5,544.2 893.0,545.5 900.5,548.0 908.0,545.5 915.5,545.0 921.8,543.5 928.0,553.0 935.5,559.2 941.8,560.5 948.0,553.0 955.5,540.5 963.0,524.2 970.5,505.5 976.8,494.2 983.0,490.5 990.5,491.8 996.8,498.0 1003.0,511.8 1009.2,528.0 1015.5,543.0 1021.8,544.2 1028.0,545.5 1034.2,558.0 1041.8,574.2 1048.0,585.5 1055.5,591.8 1064.2,595.5 1073.0,596.8 1081.8,598.5 1089.2,596.0" fill="none" stroke="#efc260" stroke-width="1" stroke-linejoin="round"/>
<polyline points="10.5,598.0 14.2,600.5 19.2,601.0 24.2,596.8 29.2,589.2 35.0,583.5 40.5,587.5 45.5,588.0 50.5,580.5 56.8,563.0 62.5,547.5 68.0,541.8 73.0,533.0 78.0,548.0 83.8,568.0 89.2,578.8 94.2,571.8 100.5,548.0 106.8,526.8 111.8,506.8 116.8,496.0 121.8,495.5 126.8,491.8 131.8,500.5 138.0,506.8 143.0,513.0 148.0,504.2 154.2,496.8 160.5,493.0 166.8,494.2 171.8,501.8 175.5,511.0 181.0,506.8 186.0,520.0 191.8,513.0 198.0,514.2 204.2,515.5 208.0,519.2 213.0,537.5 218.0,519.2 223.5,511.8 229.2,516.8 234.2,526.8 239.2,545.5 240.5,564.2 245.5,563.5 251.8,571.8 256.8,575.5 262.5,588.0 268.0,600.5 273.0,591.8 279.2,575.5 285.5,558.0 290.5,545.5 295.5,536.8 300.5,529.2 305.5,525.5 310.5,513.0 311.8,512.5 316.8,515.5 321.8,512.5 326.8,515.0 331.8,502.5 337.5,502.5 343.0,508.0 349.2,516.2 356.8,516.2 364.2,515.5 370.5,516.0 376.0,517.5 381.8,530.5 388.0,544.2 393.0,558.0 400.5,573.0 408.0,593.0 414.2,599.2 419.2,597.5 425.0,591.8 430.5,586.0 435.5,588.0 440.5,566.0 445.5,566.0 450.5,550.5 456.8,576.8 462.5,586.8 468.0,596.0 474.2,561.8 480.5,530.5 484.2,503.5 489.2,515.5 495.5,526.0 500.5,527.5 505.5,526.8 510.5,529.2 515.5,550.5 521.8,553.5 526.8,556.0 533.0,538.8 536.8,540.0 541.8,549.2 548.5,588.0 554.2,601.0 559.2,601.0 564.2,595.5 570.5,585.5 576.8,571.8 581.0,564.2 586.8,541.8 591.8,546.0 596.8,546.0 602.5,578.0 608.0,589.2 613.5,596.0 619.2,583.0 625.0,563.0 630.5,558.0 635.0,555.5 640.5,569.2 646.8,575.5 651.8,586.8 656.8,576.8 663.0,545.5 669.2,515.5 673.5,497.5 679.2,490.5 684.2,498.0 689.2,514.2 695.5,524.2 700.5,531.8 705.5,532.5 711.0,524.2 716.8,515.5 721.8,513.0 726.8,538.0 733.0,558.0 736.8,553.0 743.0,560.5 749.2,574.2 754.2,583.5 759.2,571.8 765.0,558.0 770.5,571.8 775.5,583.0 780.5,586.8 786.0,573.0 793.0,571.8 801.8,569.2 808.0,550.5 813.0,524.2 818.5,520.0 824.2,525.5 830.0,558.0 835.5,568.0 840.5,583.0 845.5,590.5 850.5,583.0 856.8,574.2 863.0,551.8 868.0,543.5 872.5,536.0 878.0,545.0 883.8,551.8 889.2,538.5 895.0,550.5 900.5,549.2 905.5,556.8 908.0,548.0 911.0,531.8 916.0,545.5 921.8,551.8 927.5,563.0 933.0,561.8 938.0,560.0 944.2,551.8 949.2,538.0 955.5,531.8 961.8,513.0 970.5,489.2 980.5,489.2 986.8,493.5 991.8,493.5 998.0,505.5 1003.0,521.8 1009.2,544.2 1014.2,548.5 1019.2,542.5 1024.2,544.2 1030.5,556.8 1035.5,568.0 1040.5,580.5 1046.8,588.0 1051.8,594.2 1056.8,591.0 1063.0,594.2 1069.2,596.8 1075.5,599.2 1080.5,599.2 1085.5,596.0 1089.2,595.5" fill="none" stroke="#3535b5" stroke-width="1" stroke-linejoin="round"/>
<text x="18.1" y="495.3" font-size="12" fill="#131722" text-anchor="start" font-weight="normal" textLength="158.3" lengthAdjust="spacingAndGlyphs">Stoch RSI (3, 3, 14, 14, close)</text>
<text x="184.5" y="495.3" font-size="12" fill="#4646b8" text-anchor="start" font-weight="normal" textLength="22.3" lengthAdjust="spacingAndGlyphs">5.40</text>
<text x="215.0" y="495.3" font-size="12" fill="#f5b23a" text-anchor="start" font-weight="normal" textLength="22.3" lengthAdjust="spacingAndGlyphs">3.90</text>
<line x1="9.5" y1="0" x2="9.5" y2="641.5" stroke="#e0e3eb" stroke-width="1"/>
<line x1="1221.5" y1="0" x2="1221.5" y2="641.5" stroke="#e0e3eb" stroke-width="1"/>
<line x1="9.5" y1="641.5" x2="1221.5" y2="641.5" stroke="#e0e3eb" stroke-width="1"/>
<line x1="9.5" y1="475.5" x2="1221.5" y2="475.5" stroke="#e0e3eb" stroke-width="1"/>
<text x="1156.0" y="15.0" font-size="12" fill="#131722" text-anchor="start" font-weight="normal" textLength="26.5" lengthAdjust="spacingAndGlyphs">USDT</text>
<text x="1156.0" y="43.8" font-size="12" fill="#131722" text-anchor="start" font-weight="normal" textLength="54" lengthAdjust="spacingAndGlyphs">0.0002500</text>
<text x="1156.0" y="102.5" font-size="12" fill="#131722" text-anchor="start" font-weight="normal" textLength="54" lengthAdjust="spacingAndGlyphs">0.0002400</text>
<text x="1156.0" y="161.2" font-size="12" fill="#131722" text-anchor="start" font-weight="normal" textLength="54" lengthAdjust="spacingAndGlyphs">0.0002300</text>
<text x="1156.0" y="278.6" font-size="12" fill="#131722" text-anchor="start" font-weight="normal" textLength="54" lengthAdjust="spacingAndGlyphs">0.0002100</text>
<text x="1156.0" y="337.3" font-size="12" fill="#131722" text-anchor="start" font-weight="normal" textLength="54" lengthAdjust="spacingAndGlyphs">0.0002000</text>
<text x="1156.0" y="396.0" font-size="12" fill="#131722" text-anchor="start" font-weight="normal" textLength="54" lengthAdjust="spacingAndGlyphs">0.0001900</text>
<text x="1156.0" y="454.7" font-size="12" fill="#131722" text-anchor="start" font-weight="normal" textLength="54" lengthAdjust="spacingAndGlyphs">0.0001800</text>
<path d="M1146,178 H1214 Q1216,178 1216,180 V192.4 Q1216,194.4 1214,194.4 H1146 Z" fill="#5b3fc4"/>
<text x="1156.5" y="190.6" font-size="12" fill="#fff" text-anchor="start" font-weight="bold" textLength="55" lengthAdjust="spacingAndGlyphs">0.0002239</text>
<path d="M1146,194.4 H1214 Q1216,194.4 1216,196.4 V223.70000000000002 Q1216,225.70000000000002 1214,225.70000000000002 H1146 Z" fill="#ef5350"/>
<text x="1156.5" y="207.6" font-size="12" fill="#fff" text-anchor="start" font-weight="bold" textLength="55" lengthAdjust="spacingAndGlyphs">0.0002223</text>
<text x="1156.5" y="221.9" font-size="12" fill="#ffe4e4" text-anchor="start" font-weight="normal" textLength="47" lengthAdjust="spacingAndGlyphs">02:54:12</text>
<text x="1156.0" y="516.5" font-size="12" fill="#131722" text-anchor="start" font-weight="normal" textLength="29" lengthAdjust="spacingAndGlyphs">80.00</text>
<text x="1156.0" y="561.6" font-size="12" fill="#131722" text-anchor="start" font-weight="normal" textLength="29" lengthAdjust="spacingAndGlyphs">40.00</text>
<path d="M1146,588.2 H1184 Q1186,588.2 1186,590.2 V602.5 Q1186,604.5 1184,604.5 H1146 Z" fill="#3030e0"/>
<text x="1156.5" y="600.5" font-size="12" fill="#fff" text-anchor="start" font-weight="bold" textLength="23" lengthAdjust="spacingAndGlyphs">5.40</text>
<rect x="1146" y="604.6" width="40" height="9" fill="#f5ae0a"/>
<clipPath id="cl"><rect x="1146" y="604.6" width="40" height="9"/></clipPath>
<text x="1156.5" y="618" font-size="12" font-weight="bold" fill="#131722" clip-path="url(#cl)" textLength="23" lengthAdjust="spacingAndGlyphs">3.90</text>
<text x="61.9" y="632.2" font-size="12" fill="#131722" text-anchor="middle" font-weight="normal">7</text>
<text x="159.3" y="632.2" font-size="12" fill="#131722" text-anchor="middle" font-weight="normal">10</text>
<text x="256.7" y="632.2" font-size="12" fill="#131722" text-anchor="middle" font-weight="normal">13</text>
<text x="386.6" y="632.2" font-size="12" fill="#131722" text-anchor="middle" font-weight="normal">17</text>
<text x="484.0" y="632.2" font-size="12" fill="#131722" text-anchor="middle" font-weight="normal">20</text>
<text x="613.8" y="632.2" font-size="12" fill="#131722" text-anchor="middle" font-weight="normal">24</text>
<text x="711.2" y="632.2" font-size="12" fill="#131722" text-anchor="middle" font-weight="normal">27</text>
<text x="792.4" y="632.2" font-size="12" fill="#131722" text-anchor="middle" font-weight="normal">12:00</text>
<text x="873.5" y="632.2" font-size="12" fill="#131722" text-anchor="middle" font-weight="bold" textLength="20.5" lengthAdjust="spacingAndGlyphs">Nov</text>
<text x="970.9" y="632.2" font-size="12" fill="#131722" text-anchor="middle" font-weight="normal">4</text>
<text x="1068.3" y="632.2" font-size="12" fill="#131722" text-anchor="middle" font-weight="normal">7</text>
</svg></body></html>
